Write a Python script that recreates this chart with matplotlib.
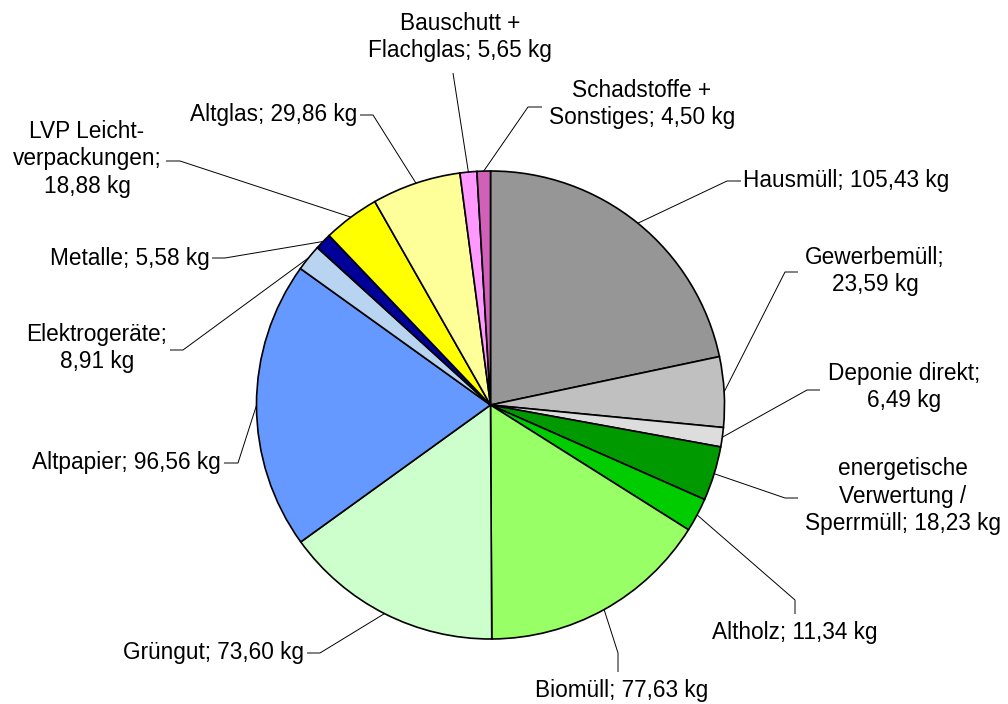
import matplotlib
matplotlib.use("Agg")
import matplotlib.pyplot as plt
import math

categories = ["Hausmüll", "Gewerbemüll", "Deponie direkt", "energetische Verwertung / Sperrmüll",
              "Altholz", "Biomüll", "Grüngut", "Altpapier", "Elektrogeräte", "Metalle",
              "LVP Leichtverpackungen", "Altglas", "Bauschutt + Flachglas", "Schadstoffe + Sonstiges"]
values = [105.43, 23.59, 6.49, 18.23, 11.34, 77.63, 73.60, 96.56, 8.91, 5.58, 18.88, 29.86, 5.65, 4.50]
label_texts = ["Hausmüll; 105,43 kg", "Gewerbemüll;\n23,59 kg", "Deponie direkt;\n6,49 kg",
               "energetische\nVerwertung /\nSperrmüll; 18,23 kg", "Altholz; 11,34 kg",
               "Biomüll; 77,63 kg", "Grüngut; 73,60 kg", "Altpapier; 96,56 kg",
               "Elektrogeräte;\n8,91 kg", "Metalle; 5,58 kg", "LVP Leicht-\nverpackungen;\n18,88 kg",
               "Altglas; 29,86 kg", "Bauschutt +\nFlachglas; 5,65 kg", "Schadstoffe +\nSonstiges; 4,50 kg"]
colors = ["#969696", "#c0c0c0", "#dddddd", "#009900", "#00cc00", "#99ff66", "#ccffcc",
          "#6699ff", "#b8d4f0", "#000099", "#ffff00", "#ffff99", "#ff99ff", "#d060b8"]

W, H = 1008, 704
plt.rcParams['font.family'] = ['Liberation Sans', 'DejaVu Sans']

fig = plt.figure(figsize=(W / 100, H / 100), dpi=100)
ax = fig.add_axes([0, 0, 1, 1])
ax.set_xlim(0, W)
ax.set_ylim(0, H)
ax.set_aspect('equal')
ax.axis('off')

def P(x, y):
    return (x, H - y)

cx, cy, R = 490.5, 405, 234
wedges, _ = ax.pie(values, colors=colors, startangle=90, counterclock=False,
                   center=P(cx, cy), radius=R,
                   wedgeprops=dict(edgecolor='black', linewidth=1.2))
ax.set_xlim(0, W)
ax.set_ylim(0, H)

# layout: (text x, text y, ha, elbow, end) in pixel coords (y down)
layout = [
    (743, 181, 'left', (727, 181), (741, 181)),
    (875, 271, 'center', (785, 272), (798, 272)),
    (904, 387, 'center', (807, 390), (820, 390)),
    (903, 496, 'center', (785, 498), (798, 498)),
    (795, 633, 'center', (795, 600), (795, 614)),
    (622, 691, 'center', (618, 653), (618, 672)),
    (304, 653, 'right', (320, 653), (307, 653)),
    (221, 463, 'right', (238, 463), (224, 463)),
    (97, 348, 'center', (183, 350), (170, 350)),
    (210, 258, 'right', (225, 258), (212, 258)),
    (87, 159, 'center', (180, 161), (166, 161)),
    (357, 115, 'right', (373, 115), (360, 115)),
    (460, 37, 'center', (453, 73), (453, 73)),
    (642, 104, 'center', (528, 107), (542, 107)),
]

for w, txt, (tx, ty, ha, elbow, end) in zip(wedges, label_texts, layout):
    mid = math.radians((w.theta1 + w.theta2) / 2)
    ix, iy = w.center[0] + R * math.cos(mid), w.center[1] + R * math.sin(mid)
    ex, ey = P(*elbow)
    fx, fy = P(*end)
    ax.plot([ix, ex, fx], [iy, ey, fy], color='black', linewidth=0.7, solid_capstyle='butt')
    tx_, ty_ = P(tx, ty)
    ax.text(tx_, ty_, txt, ha=ha, va='center', fontsize=16.3, color='black',
            multialignment='center', linespacing=1.27)

fig.savefig("out.png", dpi=100)
